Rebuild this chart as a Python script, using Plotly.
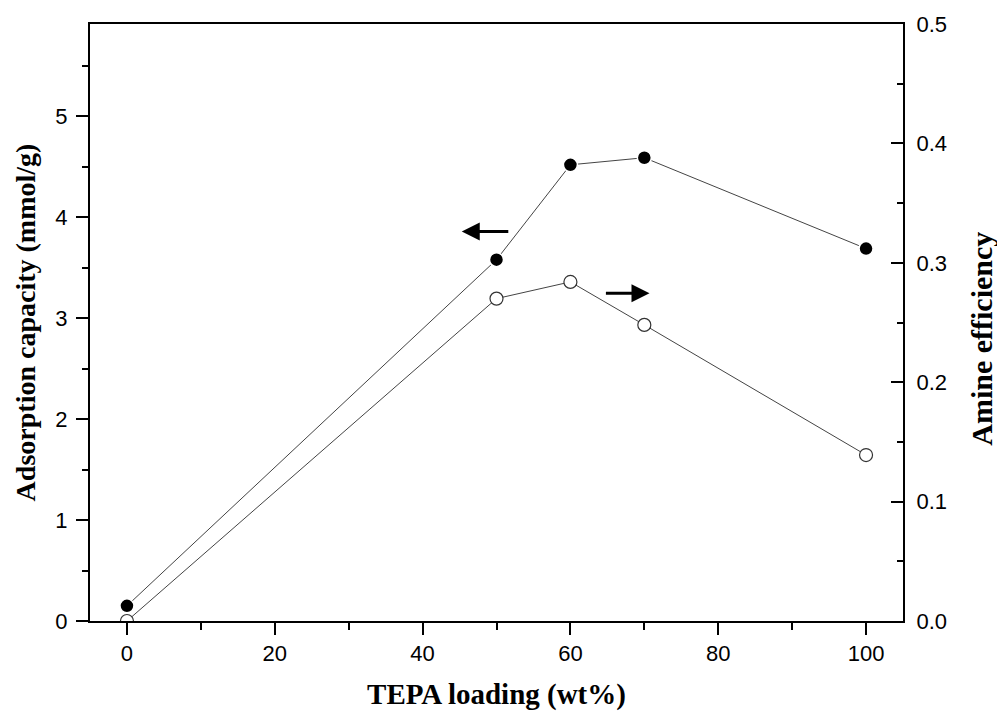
import plotly.graph_objects as go

tepa = [0, 50, 60, 70, 100]
capacity = [0.15, 3.58, 4.52, 4.59, 3.69]
efficiency = [0.0, 0.270, 0.284, 0.248, 0.139]

fig = go.Figure()
fig.add_trace(go.Scatter(
    x=tepa, y=capacity, mode="lines+markers",
    line=dict(color="#444444", width=1),
    marker=dict(symbol="circle", size=14, color="black", line=dict(color="white", width=1.5)),
    showlegend=False))
fig.add_trace(go.Scatter(
    x=tepa, y=efficiency, mode="lines+markers", yaxis="y2",
    line=dict(color="#444444", width=1),
    marker=dict(symbol="circle", size=13, color="white", line=dict(color="#333333", width=1.2)),
    showlegend=False))

tickfont = dict(family="Liberation Sans, Arial", size=22, color="black")
titlefont = dict(family="Liberation Serif, Times New Roman", size=28, color="black")

fig.update_layout(
    width=997, height=719,
    margin=dict(l=90, r=94, t=20, b=98),
    plot_bgcolor="white", paper_bgcolor="white",
    xaxis=dict(range=[-5, 105], tickvals=[0, 20, 40, 60, 80, 100],
               ticks="outside", ticklen=12, tickwidth=2, tickcolor="black",
               minor=dict(ticks="outside", ticklen=7, tickwidth=2, dtick=10, tick0=0, tickcolor="black"),
               showline=True, linewidth=2, linecolor="black", mirror=True,
               showgrid=False, zeroline=False, tickfont=tickfont,
               title=dict(text="<b>TEPA loading (wt%)</b>", font=dict(family="Liberation Serif, Times New Roman", size=29, color="black"), standoff=18)),
    yaxis=dict(range=[0, 5.915], tickvals=[0, 1, 2, 3, 4, 5],
               ticks="outside", ticklen=12, tickwidth=2, tickcolor="black",
               minor=dict(ticks="outside", ticklen=6, tickwidth=2, dtick=0.5, tick0=0, tickcolor="black"),
               showline=True, linewidth=2, linecolor="black",
               showgrid=False, zeroline=False, tickfont=tickfont, ticklabelstandoff=4,
               title=dict(text="<b>Adsorption capacity (mmol/g)</b>", font=titlefont, standoff=12)),
    yaxis2=dict(range=[0, 0.5], tickvals=[0, 0.1, 0.2, 0.3, 0.4, 0.5], tickformat=".1f",
                overlaying="y", side="right",
                ticks="inside", ticklen=12, tickwidth=2, tickcolor="black",
                minor=dict(ticks="inside", ticklen=6, tickwidth=2, dtick=0.05, tick0=0, tickcolor="black"),
                showline=True, linewidth=2, linecolor="black",
                showgrid=False, zeroline=False, tickfont=tickfont, ticklabelstandoff=7),
)

fig.add_annotation(text="<b>Amine efficiency</b>", textangle=-90, xref="paper", yref="paper",
                   x=1.097, y=0.4725, xanchor="center", yanchor="middle", showarrow=False,
                   font=dict(family="Liberation Serif, Times New Roman", size=30, color="black"))

fig.add_annotation(x=45.3, y=3.86, ax=51.8, ay=3.86, xref="x", yref="y", axref="x", ayref="y",
                   showarrow=True, arrowhead=2, arrowsize=1.2, arrowwidth=3, arrowcolor="black", text="")
fig.add_annotation(x=70.7, y=0.2745, ax=64.6, ay=0.2745, xref="x", yref="y2", axref="x", ayref="y2",
                   showarrow=True, arrowhead=2, arrowsize=1.2, arrowwidth=3, arrowcolor="black", text="")

fig.write_html("out.html")
